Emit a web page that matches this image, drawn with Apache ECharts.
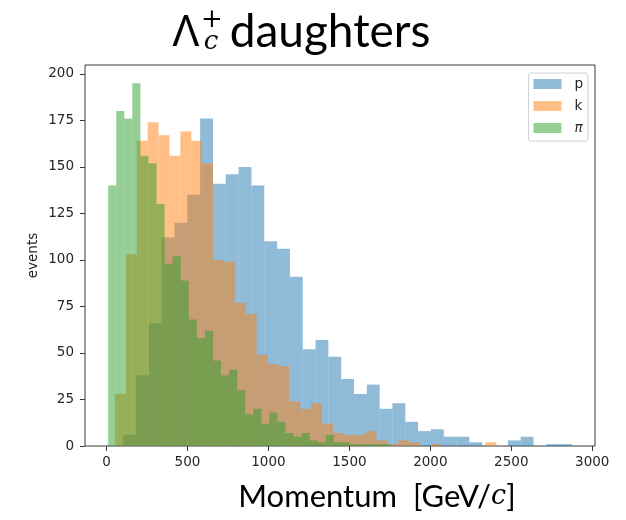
<!DOCTYPE html>
<html>
<head>
<meta charset="utf-8">
<script src="https://cdn.jsdelivr.net/npm/echarts@6/dist/echarts.min.js"></script>
<style>
  html, body { margin: 0; padding: 0; background: #fff; }
  #chart { width: 626px; height: 520px; }
</style>
</head>
<body>
<div id="chart"></div>
<script>
// histogram counts, 35 bins per particle
var pStart = 103, pWidth = 79.2;
var pCounts = [6, 38, 66, 112, 120, 135, 176, 141, 146, 150, 140, 110, 106, 91, 52, 57, 48, 36, 28, 33,
               20, 23, 13, 8, 9, 5, 5, 2, 0, 0, 3, 5, 0, 1, 1];
var kStart = 52, kWidth = 67.3;
var kCounts = [28, 103, 164, 174, 167, 156, 169, 164, 152, 100, 99, 77, 71, 49, 44, 43, 24, 20, 23, 12,
               7, 6, 6, 8, 3, 1, 3, 2, 0, 1, 0, 0, 0, 0, 2];
var piStart = 10, piWidth = 49.8;
var piCounts = [140, 180, 176, 195, 156, 152, 130, 98, 102, 89, 68, 58, 62, 46, 38, 41, 30, 17, 20, 12,
                18, 13, 7, 5, 7, 3, 2, 6, 2, 2, 1, 1, 1, 1, 1];

var xTicks = [0, 500, 1000, 1500, 2000, 2500, 3000];
var yTicks = [0, 25, 50, 75, 100, 125, 150, 175, 200];

function bins(start, width, counts) {
    return counts.map(function (c, i) {
        return [start + i * width, start + (i + 1) * width, c];
    });
}

function renderBar(params, api) {
    var top = api.coord([api.value(0), api.value(2)]);
    var bot = api.coord([api.value(1), 0]);
    return {
        type: 'rect',
        shape: { x: top[0], y: top[1], width: bot[0] - top[0], height: bot[1] - top[1] },
        style: { fill: api.visual('color') }
    };
}

var chart = echarts.init(document.getElementById('chart'));

var tickFont = { fontFamily: 'DejaVu Sans', fontSize: 13.5, color: '#262626' };

var option = {
    animation: false,
    grid: {
        left: 85, right: 31, top: 65, bottom: 74,
        show: true, borderColor: '#3a3a3a', borderWidth: 1
    },
    legend: {
        orient: 'vertical',
        right: 38, top: 73,
        icon: 'rect',
        itemWidth: 28, itemHeight: 10, itemGap: 8,
        padding: [4, 5, 6, 5],
        borderColor: '#d0d0d0', borderWidth: 1, borderRadius: 3,
        backgroundColor: '#fff',
        data: ['p', 'k', 'π'],
        formatter: function (name) {
            return name === 'π' ? '{i|π}' : '{n|' + name + '}';
        },
        textStyle: {
            fontFamily: 'DejaVu Sans', fontSize: 13.5, color: '#262626',
            rich: {
                n: { padding: [0, 0, 0, 8], fontSize: 13.5, fontFamily: 'DejaVu Sans' },
                i: { padding: [0, 0, 0, 8], fontSize: 13.5, fontFamily: 'DejaVu Sans', fontStyle: 'italic' }
            }
        }
    },
    xAxis: {
        type: 'value',
        min: -133, max: 3017,
        axisLine: { show: false, onZero: false },
        splitLine: { show: false },
        axisTick: { show: true, length: 5, lineStyle: { color: '#3a3a3a' }, customValues: xTicks },
        axisLabel: Object.assign({ margin: 9, customValues: xTicks, formatter: function (v) { return String(v); } }, tickFont)
    },
    yAxis: {
        type: 'value',
        min: 0, max: 204.75,
        name: 'events',
        nameLocation: 'middle',
        nameGap: 45,
        nameMoveOverlap: false,
        nameTextStyle: { fontFamily: 'DejaVu Sans', fontSize: 13.5, color: '#262626' },
        axisLine: { show: false, onZero: false },
        splitLine: { show: false },
        axisTick: { show: true, length: 5, lineStyle: { color: '#3a3a3a' }, customValues: yTicks },
        axisLabel: Object.assign({ margin: 11, customValues: yTicks, formatter: function (v) { return String(v); } }, tickFont)
    },
    graphic: [
        { type: 'text', x: 186, y: 33, style: { text: 'Λ', font: '44px "Noto Sans"', fill: '#000', textAlign: 'center', textVerticalAlign: 'middle' } },
        { type: 'text', x: 212, y: 20, style: { text: '+', font: '26px "DejaVu Serif"', fill: '#000', textAlign: 'center', textVerticalAlign: 'middle' } },
        { type: 'text', x: 211, y: 42, style: { text: 'c', font: 'italic 26px "DejaVu Serif"', fill: '#000', textAlign: 'center', textVerticalAlign: 'middle' } },
        { type: 'text', x: 330, y: 32, style: { text: 'daughters', font: '46px Lato', fill: '#000', textAlign: 'center', textVerticalAlign: 'middle' } },
        {
            type: 'text', x: 377, y: 497,
            style: {
                text: '{n|Momentum  [GeV/}{i|c}{n|]}',
                textAlign: 'center', textVerticalAlign: 'middle',
                rich: {
                    n: { fontFamily: 'Lato', fontSize: 31, fill: '#000' },
                    i: { fontFamily: 'DejaVu Serif', fontStyle: 'italic', fontSize: 27, fill: '#000' }
                }
            }
        }
    ],
    series: [
        { name: 'p', type: 'custom', renderItem: renderBar, clip: true,
          itemStyle: { color: 'rgba(31,119,180,0.5)' },
          encode: { x: [0, 1], y: 2 }, data: bins(pStart, pWidth, pCounts) },
        { name: 'k', type: 'custom', renderItem: renderBar, clip: true,
          itemStyle: { color: 'rgba(255,127,14,0.5)' },
          encode: { x: [0, 1], y: 2 }, data: bins(kStart, kWidth, kCounts) },
        { name: 'π', type: 'custom', renderItem: renderBar, clip: true,
          itemStyle: { color: 'rgba(44,160,44,0.5)' },
          encode: { x: [0, 1], y: 2 }, data: bins(piStart, piWidth, piCounts) }
    ]
};

chart.setOption(option);
</script>
</body>
</html>
